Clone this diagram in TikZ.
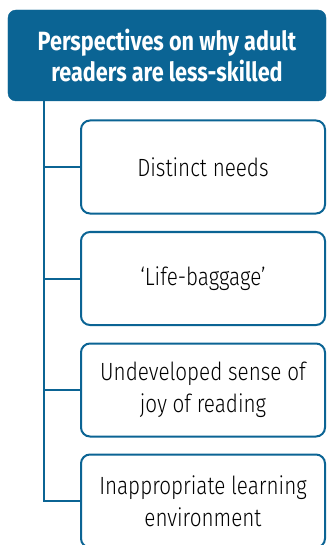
\documentclass[tikz,border=0pt]{standalone}
\usepackage{fontspec}
\setmainfont{Fira Sans}
\newfontfamily\headfont{Fira Sans}[FakeStretch=0.82]
\newfontfamily\bodyfont{Fira Sans Light}[FakeStretch=0.83]
\definecolor{navy}{RGB}{11,100,148}
\begin{document}
\begin{tikzpicture}[x=1bp,y=-1bp,
  headbox/.style={fill=navy,draw=navy,rounded corners=8bp,minimum width=318bp,minimum height=91bp,
    text=white,align=center,font=\headfont\bfseries\fontsize{26.5}{32}\selectfont,inner sep=0pt},
  itembox/.style={draw=navy,line width=2bp,rounded corners=9bp,fill=white,minimum width=244bp,
    minimum height=93bp,align=center,font=\bodyfont\fontsize{25}{32}\selectfont,inner sep=0pt},
  conn/.style={draw=navy,line width=2bp}]
\useasboundingbox (0,0) rectangle (326,545);
\clip (0,0) rectangle (326,545);
\node[headbox] (head) at (167,55.5) {Perspectives on why adult\\readers are less-skilled};
\coordinate (top) at (44,101);
\node[itembox] (b1) at (203,167) {Distinct needs};
\node[itembox] (b2) at (203,278.5) {‘Life-baggage’};
\node[itembox] (b3) at (203,390) {Undeveloped sense of\\joy of reading};
\node[itembox] (b4) at (203,501) {Inappropriate learning\\environment};
\coordinate (j1) at (44,167);
\coordinate (j2) at (44,278.5);
\coordinate (j3) at (44,390);
\coordinate (j4) at (44,501);
\draw[conn] (top) -- (j4) -- (b4.west);
\draw[conn] (j1) -- (b1.west);
\draw[conn] (j2) -- (b2.west);
\draw[conn] (j3) -- (b3.west);
\end{tikzpicture}
\end{document}
